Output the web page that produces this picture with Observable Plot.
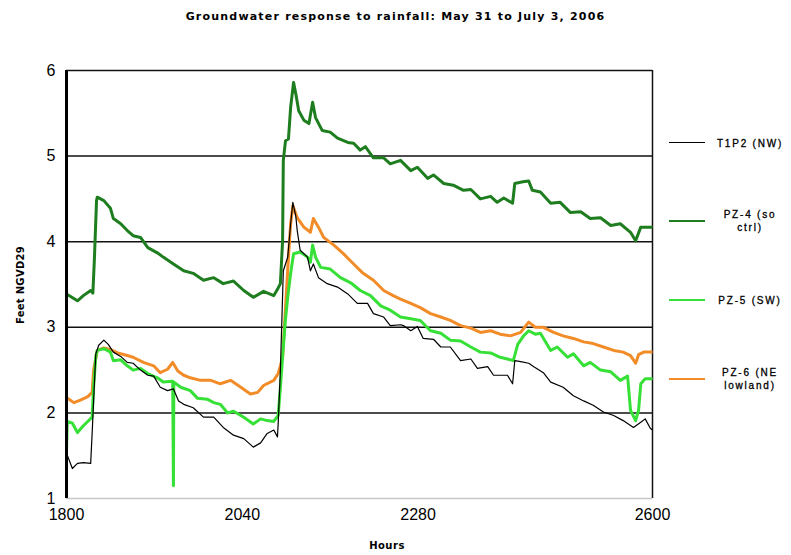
<!DOCTYPE html>
<html><head><meta charset="utf-8">
<script src="https://cdn.jsdelivr.net/npm/d3@7"></script>
<script src="https://cdn.jsdelivr.net/npm/@observablehq/plot@0.6"></script>
<style>
body{margin:0;background:#fff}
#wrap{position:relative;width:791px;height:555px;font-family:"Liberation Sans",Arial,sans-serif;color:#000}
#wrap svg{position:absolute;left:0;top:0}
.ov{position:absolute;white-space:nowrap}
.title{left:0;top:10px;width:791px;text-align:center;font:900 11px "DejaVu Sans",sans-serif;letter-spacing:1.2px}
.ylab{left:20px;top:285px;transform:translate(-50%,-50%) rotate(-90deg);font:bold 10px "DejaVu Sans",sans-serif;letter-spacing:0.3px}
.xlab{left:387px;top:545px;transform:translate(-50%,-50%);font:bold 10px "DejaVu Sans",sans-serif;letter-spacing:0.5px}
.lg{left:711px;width:78px;text-align:center;font:10px "Liberation Sans",Arial,sans-serif;letter-spacing:1.8px;line-height:13px;white-space:normal;-webkit-text-stroke:0.3px #000}
.sw{position:absolute;left:669px;width:36px;height:0}
</style>
</head><body>
<div id="wrap"></div>
<script>
const titleText = "Groundwater response to rainfall: May 31 to July 3, 2006";
const xLabel = "Hours";
const yLabel = "Feet NGVD29";
const seriesNames = ["T1P2 (NW)", "PZ-4 (so ctrl)", "PZ-5 (SW)", "PZ-6 (NE lowland)"];
const seriesColors = ["#000000", "#1e7d1e", "#36e036", "#f28c28"];
const xTicks = [1800, 2040, 2280, 2600];
const yTicks = [1, 2, 3, 4, 5, 6];
const gridValues = [2, 3, 4, 5, 6];

const t1p2Hours = [1800,1808,1815,1823,1833,1835,1837,1840,1844,1851,1857,1864,1874,1883,1891,1901,1911,1919,1928,1938,1946,1953,1960,1973,1987,2001,2014,2028,2042,2055,2065,2074,2083,2088,2089,2092,2096,2102,2106,2109,2113,2115,2119,2129,2133,2137,2144,2156,2170,2184,2197,2211,2219,2233,2242,2256,2260,2270,2279,2287,2301,2311,2324,2338,2352,2361,2375,2383,2402,2409,2412,2420,2431,2438,2451,2461,2478,2492,2506,2519,2533,2547,2560,2574,2584,2590,2597,2600];
const t1p2Values = [1.53,1.35,1.41,1.42,1.41,1.76,2.14,2.69,2.79,2.85,2.80,2.71,2.66,2.59,2.58,2.50,2.44,2.43,2.30,2.26,2.28,2.14,2.10,2.06,1.95,1.95,1.83,1.74,1.70,1.60,1.65,1.76,1.80,1.72,1.88,2.50,3.66,3.82,4.21,4.46,4.30,4.13,3.90,3.82,3.66,3.74,3.58,3.51,3.47,3.39,3.28,3.28,3.16,3.12,3.02,3.03,3.02,2.96,3.01,2.87,2.86,2.77,2.77,2.61,2.63,2.52,2.54,2.44,2.44,2.34,2.61,2.60,2.58,2.54,2.47,2.36,2.30,2.20,2.14,2.09,2.01,1.97,1.91,1.83,1.89,1.93,1.82,1.80];

const pz4Hours = [1800,1815,1823,1833,1836,1838,1841,1842,1851,1860,1864,1874,1883,1891,1901,1911,1924,1932,1946,1960,1973,1987,2001,2014,2028,2042,2055,2069,2083,2089,2092,2095,2096,2099,2103,2106,2110,2113,2117,2124,2131,2136,2140,2149,2160,2170,2184,2192,2201,2208,2219,2233,2242,2256,2270,2279,2293,2301,2315,2328,2342,2352,2365,2379,2388,2397,2409,2412,2423,2431,2436,2447,2461,2474,2488,2502,2515,2529,2543,2556,2570,2577,2584,2600];
const pz4Values = [3.39,3.31,3.37,3.43,3.40,3.78,4.48,4.52,4.48,4.39,4.27,4.21,4.13,4.07,4.05,3.93,3.87,3.82,3.74,3.66,3.63,3.55,3.58,3.51,3.54,3.43,3.35,3.42,3.37,3.46,3.51,4.01,4.95,5.18,5.20,5.57,5.86,5.73,5.53,5.42,5.38,5.63,5.45,5.30,5.28,5.21,5.16,5.15,5.07,5.11,4.98,4.98,4.91,4.95,4.83,4.87,4.74,4.78,4.68,4.66,4.60,4.61,4.50,4.53,4.46,4.51,4.45,4.68,4.70,4.71,4.60,4.58,4.45,4.46,4.34,4.35,4.27,4.28,4.19,4.21,4.11,4.01,4.17,4.17];

const pz5Hours = [1800,1801,1808,1815,1823,1835,1837,1840,1842,1851,1860,1864,1874,1883,1891,1901,1911,1924,1932,1945,1946,1946.5,1956,1969,1979,1992,2001,2010,2020,2028,2042,2055,2065,2074,2083,2089,2092,2095,2099,2102,2106,2110,2119,2129,2133,2136,2140,2147,2160,2174,2188,2201,2215,2229,2242,2256,2270,2283,2297,2311,2324,2338,2352,2365,2379,2392,2402,2410,2416,2424,2431,2440,2447,2461,2470,2484,2492,2506,2515,2529,2543,2556,2566,2570,2577,2581,2584,2590,2600];
const pz5Values = [1.55,1.90,1.88,1.77,1.85,1.95,2.30,2.66,2.73,2.75,2.71,2.61,2.62,2.55,2.50,2.52,2.46,2.41,2.36,2.37,1.15,2.36,2.30,2.26,2.17,2.16,2.12,2.10,2.00,2.02,1.95,1.87,1.93,1.91,1.90,1.97,2.30,2.65,3.10,3.35,3.63,3.86,3.88,3.82,3.76,3.96,3.82,3.70,3.68,3.58,3.52,3.43,3.37,3.25,3.20,3.12,3.10,3.08,2.96,2.93,2.85,2.84,2.77,2.71,2.70,2.65,2.63,2.61,2.80,2.90,2.96,2.92,2.93,2.73,2.77,2.65,2.69,2.55,2.59,2.50,2.48,2.38,2.43,2.03,1.91,2.03,2.34,2.40,2.40];

const pz6Hours = [1800,1810,1819,1829,1835,1837,1842,1851,1860,1870,1883,1891,1905,1919,1928,1938,1945,1952,1960,1969,1983,1997,2010,2024,2038,2051,2061,2069,2083,2089,2092,2095,2099,2103,2106,2109,2115,2124,2133,2137,2144,2151,2165,2178,2192,2205,2219,2233,2246,2256,2270,2283,2297,2311,2324,2338,2352,2365,2379,2392,2406,2420,2429,2431,2440,2451,2465,2478,2492,2506,2519,2533,2547,2560,2570,2577,2581,2588,2600];
const pz6Values = [2.18,2.12,2.15,2.19,2.24,2.50,2.73,2.76,2.74,2.70,2.67,2.65,2.59,2.55,2.47,2.51,2.59,2.49,2.44,2.41,2.38,2.38,2.34,2.38,2.30,2.22,2.24,2.32,2.38,2.46,2.55,2.65,3.23,3.82,4.21,4.42,4.28,4.17,4.11,4.27,4.17,4.05,3.96,3.86,3.74,3.63,3.55,3.43,3.37,3.33,3.28,3.23,3.16,3.12,3.08,3.02,2.99,2.94,2.96,2.92,2.90,2.94,3.04,3.06,3.00,3.00,2.94,2.90,2.87,2.83,2.81,2.77,2.73,2.71,2.67,2.58,2.68,2.71,2.71];

const allHours = [t1p2Hours, pz4Hours, pz5Hours, pz6Hours];
const allValues = [t1p2Values, pz4Values, pz5Values, pz6Values];
const rows = [];
seriesNames.forEach((s, i) => allHours[i].forEach((h, j) => rows.push({series: s, hour: h, value: allValues[i][j]})));
const bySeries = s => rows.filter(d => d.series === s);

const lineFor = (s, w) => Plot.line(bySeries(s), {x: "hour", y: "value", stroke: "series", strokeWidth: w, strokeLinejoin: "round", strokeLinecap: "butt"});

const chart = Plot.plot({
  width: 791, height: 555,
  marginLeft: 66, marginRight: 139, marginTop: 70, marginBottom: 57,
  style: {fontFamily: "'Liberation Sans', Arial, sans-serif", fontSize: "16px", color: "#000", background: "transparent"},
  x: {domain: [xTicks[0], xTicks[xTicks.length - 1]]},
  y: {domain: [yTicks[0], yTicks[yTicks.length - 1]]},
  color: {domain: seriesNames, range: seriesColors},
  marks: [
    Plot.ruleY([yTicks[0]], {stroke: "#c8c8c8", strokeWidth: 1.5}),
    Plot.ruleY(gridValues, {stroke: "#111", strokeWidth: 1.5}),
    Plot.ruleX([xTicks[xTicks.length - 1]], {stroke: "#111", strokeWidth: 1.5}),
    lineFor(seriesNames[3], 3),
    lineFor(seriesNames[2], 3),
    lineFor(seriesNames[1], 3),
    lineFor(seriesNames[0], 1.2),
    Plot.ruleX([xTicks[0]], {stroke: "#000", strokeWidth: 3}),
    Plot.axisX({ticks: xTicks, tickFormat: d => String(d), tickSize: 0, tickPadding: 10, label: null, fontSize: 16}),
    Plot.axisY({ticks: yTicks, tickFormat: d => String(d), tickSize: 0, tickPadding: 11, label: null, fontSize: 16})
  ]
});

const wrap = document.getElementById("wrap");
wrap.appendChild(chart);
function addDiv(cls, text, style) {
  const d = document.createElement("div");
  d.className = "ov " + cls;
  if (text != null) d.textContent = text;
  Object.assign(d.style, style || {});
  wrap.appendChild(d);
  return d;
}
addDiv("title", titleText);
addDiv("ylab", yLabel);
addDiv("xlab", xLabel);

const legendY = [143, 221, 300, 379];
const legendWidths = [1.5, 2, 2, 2];
seriesNames.forEach((s, i) => {
  const sw = document.createElement("div");
  sw.className = "sw";
  sw.style.top = (legendY[i] - legendWidths[i] / 2) + "px";
  sw.style.borderTop = legendWidths[i] + "px solid " + seriesColors[i];
  wrap.appendChild(sw);
  const t = addDiv("lg", s);
  const h = t.getBoundingClientRect().height;
  t.style.top = (legendY[i] - h / 2) + "px";
});
</script>
</body></html>
